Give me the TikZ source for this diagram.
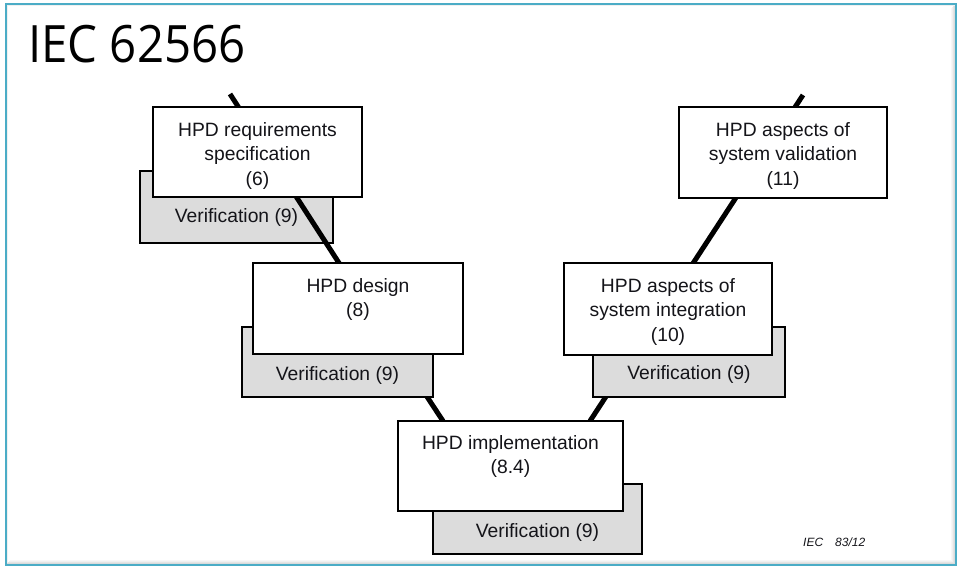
\documentclass[tikz,border=0pt]{standalone}
\usepackage{fontspec}
\setmainfont{Liberation Sans}
\newfontfamily\titlefont{Open Sans}
\definecolor{framecol}{RGB}{75,172,198}
\definecolor{verifgray}{RGB}{220,220,220}
\definecolor{inkcol}{RGB}{20,20,25}
\tikzset{
  stage/.style={draw=black, line width=2.2pt, fill=white, rectangle,
    inner sep=0pt, outer sep=0pt, anchor=north west},
  verif/.style={draw=black, line width=2.2pt, fill=verifgray, rectangle,
    inner sep=0pt, outer sep=0pt, anchor=north west},
  stagetext/.style={inner sep=0pt, outer sep=0pt, anchor=north, align=center,
    font=\fontsize{19.3}{24.5}\selectfont, text=inkcol},
  veriftext/.style={inner sep=0pt, outer sep=0pt, anchor=base,
    font=\fontsize{19.3}{24}\selectfont, text=inkcol},
  vline/.style={line width=5pt, draw=black},
}
\begin{document}
\begin{tikzpicture}[x=1pt,y=-1pt]
\path[use as bounding box] (0,0) rectangle (961,568);

% slide frame with a soft inner shadow
\foreach \i/\c in {1/14,2/10,3/6,4/3}{
  \draw[black!\c, line width=1pt] (956-\i-0.5,4+\i) -- (956-\i-0.5,565-\i-0.5) -- (6+\i,565-\i-0.5);
}
\draw[black!6, line width=1pt] (7.5,563) -- (7.5,5.5) -- (955,5.5);
\draw[framecol, line width=2pt] (6,4) rectangle (956,565);

% title
\node[anchor=base west, inner sep=0pt, font=\titlefont\fontsize{51.5}{60}\selectfont] (title) at (28,62) {\scalebox{0.92}[1]{IEC 62566}};

% points on the two legs of the V
\coordinate (lt) at (230,94);
\coordinate (lm) at (339,263);
\coordinate (lb) at (443,421);
\coordinate (rt) at (803,95);
\coordinate (rb) at (590,421);

% legs running behind the boxes
\draw[vline] (lm) -- (lb);
\draw[vline] (rt) -- (rb);

% verification boxes
\node[verif, minimum width=191pt, minimum height=70pt] (desv) at (242,327) {};
\node[verif, minimum width=209pt, minimum height=70pt] (impv) at (433,484) {};
\node[verif, minimum width=192pt, minimum height=70pt] (intv) at (593,327) {};
\node[verif, minimum width=193pt, minimum height=72pt] (reqv) at (140,171) {};

% upper left leg crosses its verification box
\draw[vline] (lt) -- (lm);

% development stages
\node[stage, minimum width=209pt, minimum height=90pt] (req) at (153,107) {};
\node[stage, minimum width=210pt, minimum height=91pt] (des) at (253,263) {};
\node[stage, minimum width=225pt, minimum height=90pt] (imp) at (398,421) {};
\node[stage, minimum width=208pt, minimum height=92pt] (int) at (564,263) {};
\node[stage, minimum width=208pt, minimum height=91pt] (val) at (679,107) {};

% stage texts
\node[stagetext] (reqt) at ([yshift=-15.5pt]req.north) {HPD requirements\\specification\\(6)};
\node[stagetext] (dest) at ([yshift=-15.5pt]des.north) {HPD design\\(8)};
\node[stagetext] (impt) at ([yshift=-14.5pt]imp.north) {HPD implementation\\(8.4)};
\node[stagetext] (intt) at ([yshift=-15.5pt]int.north) {HPD aspects of\\system integration\\(10)};
\node[stagetext] (valt) at ([yshift=-15.5pt]val.north) {HPD aspects of\\system validation\\(11)};

% verification texts
\node[veriftext] (reqvt) at ([yshift=21pt]reqv.south) {Verification (9)};
\node[veriftext] (desvt) at ([yshift=17pt]desv.south) {Verification (9)};
\node[veriftext] (impvt) at ([yshift=17pt]impv.south) {Verification (9)};
\node[veriftext] (intvt) at ([yshift=18pt]intv.south) {Verification (9)};

% figure reference
\node[anchor=base west, inner sep=0pt, font=\fontsize{12}{14}\selectfont\itshape, text=inkcol] (code) at (803,546) {IEC\hspace{12pt}83/12};
\end{tikzpicture}
\end{document}
